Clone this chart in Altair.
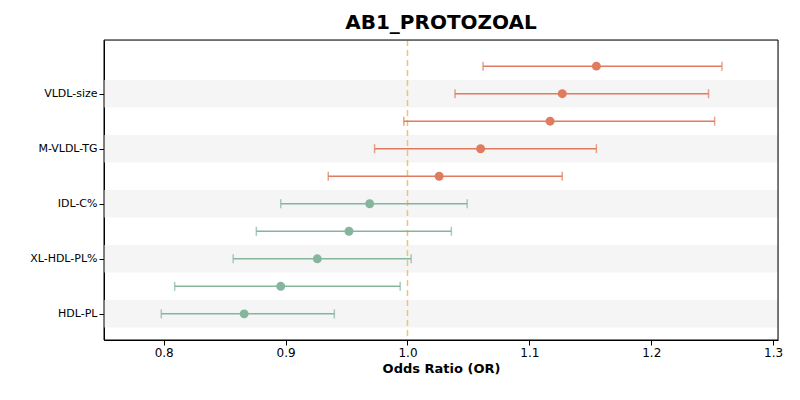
import altair as alt
import pandas as pd

metrics = ["L-VLDL-P", "VLDL-size", "XXL-VLDL-PL%", "M-VLDL-TG", "LDL-PL",
           "IDL-C%", "XS-VLDL-CE%", "XL-HDL-PL%", "S-HDL-L", "HDL-PL"]
odds = [1.155, 1.127, 1.117, 1.060, 1.026, 0.969, 0.952, 0.926, 0.896, 0.866]
lower = [1.062, 1.039, 0.997, 0.973, 0.935, 0.896, 0.876, 0.857, 0.809, 0.798]
upper = [1.258, 1.247, 1.252, 1.155, 1.127, 1.049, 1.036, 1.003, 0.994, 0.940]

n = len(metrics)
df = pd.DataFrame({
    "metric": metrics,
    "pos": [n - 1 - i for i in range(n)],
    "or": odds, "lo": lower, "hi": upper,
})
df["dir"] = ["up" if v > 1 else "down" for v in odds]
df["y0"] = df["pos"] - 0.5
df["y1"] = df["pos"] + 0.5
df["shade"] = [p % 2 == 0 for p in df["pos"]]

xs = alt.Scale(domain=[0.751, 1.304], nice=False, zero=False)
ys = alt.Scale(domain=[-0.95, n - 0.05], nice=False, zero=False)
col = alt.Color("dir:N", scale=alt.Scale(domain=["up", "down"], range=["#e07b5f", "#86b59e"]), legend=None)
label_expr = "{" + ",".join(f"'{n - 1 - i}':'{m}'" for i, m in enumerate(metrics)) + "}[datum.value]"

bands = alt.Chart(df).transform_filter("datum.shade").mark_rect(color="#f5f5f5").encode(
    x=alt.value(0), x2=alt.value(674),
    y=alt.Y("y0:Q", scale=ys), y2="y1:Q",
)
err = alt.Chart(df).mark_rule(strokeWidth=1.5).encode(
    x=alt.X("lo:Q", scale=xs), x2="hi:Q",
    y=alt.Y("pos:Q", scale=ys), color=col,
)
caps_lo = alt.Chart(df).mark_tick(size=9, thickness=1.5, orient="vertical").encode(
    x=alt.X("lo:Q", scale=xs), y=alt.Y("pos:Q", scale=ys), color=col)
caps_hi = alt.Chart(df).mark_tick(size=9, thickness=1.5, orient="vertical").encode(
    x=alt.X("hi:Q", scale=xs), y=alt.Y("pos:Q", scale=ys), color=col)
ref = alt.Chart(pd.DataFrame({"x": [1.0]})).mark_rule(
    color="#f3c26b", strokeDash=[6, 4], strokeWidth=1.5).encode(x=alt.X("x:Q", scale=xs))
frame = alt.Chart(pd.DataFrame({"a": [0]})).mark_rect(fill=None, stroke="black", strokeWidth=1).encode(
    x=alt.value(0), x2=alt.value(674), y=alt.value(0), y2=alt.value(300))
pts = alt.Chart(df).mark_circle(size=80, opacity=1).encode(
    x=alt.X("or:Q", scale=xs,
            axis=alt.Axis(title="Odds Ratio (OR)", values=[0.8, 0.9, 1.0, 1.1, 1.2, 1.3],
                          labelExpr="format(datum.value, '.1f')",
                          grid=False, labelFontSize=12, titleFontSize=13, titleFontWeight="bold",
                          domainColor="black", tickColor="black", labelColor="black", titleColor="black")),
    y=alt.Y("pos:Q", scale=ys,
            axis=alt.Axis(title=None, values=list(range(n)), labelExpr=label_expr, grid=False,
                          labelOverlap=False, labelBound=False,
                          labelFontSize=11, domainColor="black", tickColor="black", labelColor="black")),
    color=col,
)

chart = alt.layer(bands, ref, err, caps_lo, caps_hi, pts, frame).properties(
    width=674, height=300,
    title=alt.TitleParams("AB1_PROTOZOAL", fontSize=20, fontWeight="bold", color="black", offset=6),
    autosize=alt.AutoSizeParams(type="none"),
    padding={"left": 96, "top": 32, "right": 14, "bottom": 52},
).configure_view(stroke=None).configure(font="DejaVu Sans")

chart.save("out.html", embed_options={"renderer": "svg", "actions": False})
